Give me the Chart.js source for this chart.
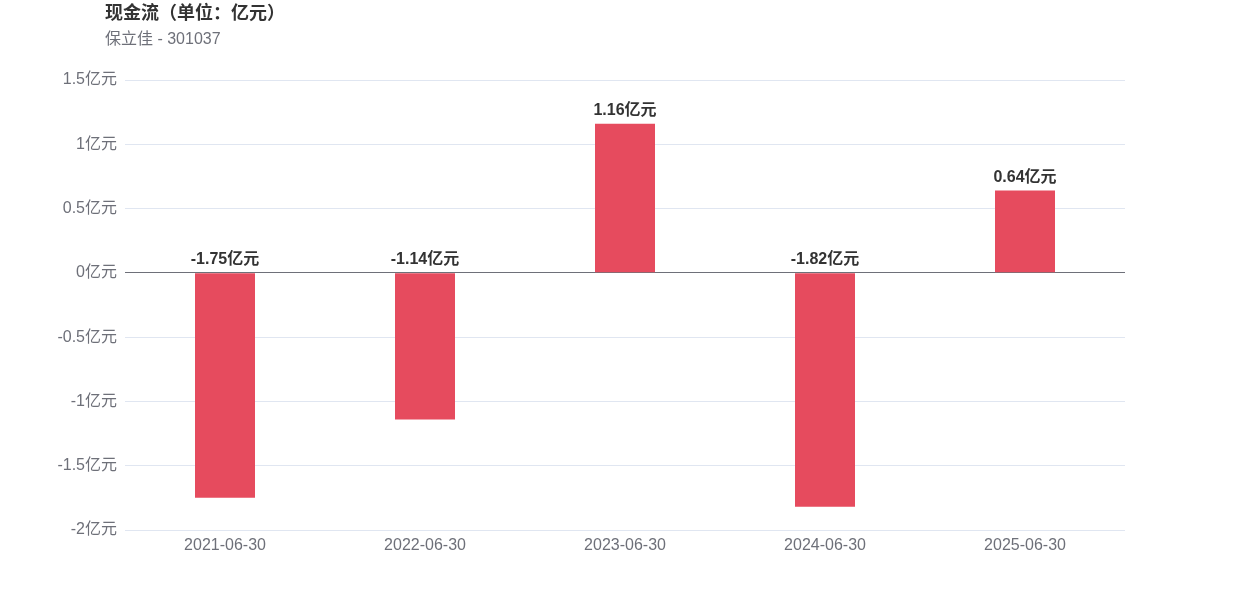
<!DOCTYPE html>
<html lang="zh">
<head>
<meta charset="UTF-8">
<title>现金流</title>
<script src="https://cdn.jsdelivr.net/npm/chart.js"></script>
<style>
  html, body { margin: 0; padding: 0; background: #fff; }
  #wrap { width: 1250px; height: 600px; position: relative; }
</style>
</head>
<body>
<div id="wrap"><canvas id="cashChart"></canvas></div>
<script>
// 数据
const categories = ['2021-06-30', '2022-06-30', '2023-06-30', '2024-06-30', '2025-06-30'];
const cashFlow = [-1.75, -1.14, 1.16, -1.82, 0.64];
const yTicks = [-2, -1.5, -1, -0.5, 0, 0.5, 1, 1.5];

const FONT = '"Liberation Sans", Arial, "Noto Sans CJK SC", sans-serif';
const barColor = '#e64b5e';

// 标题与副标题
const titlePlugin = {
    id: 'titles',
    afterDraw(chart) {
        const ctx = chart.ctx;
        ctx.save();
        ctx.textAlign = 'left';
        ctx.textBaseline = 'middle';
        ctx.fillStyle = '#333333';
        ctx.font = 'bold 18px ' + FONT;
        ctx.fillText('现金流（单位：亿元）', 105, 14);
        ctx.fillStyle = '#6e7079';
        ctx.font = '16px ' + FONT;
        ctx.fillText('保立佳 - 301037', 105, 40);
        ctx.restore();
    }
};

// 柱子上方的数值标签
const valueLabels = {
    id: 'valueLabels',
    afterDatasetsDraw(chart) {
        const ctx = chart.ctx;
        const meta = chart.getDatasetMeta(0);
        const yScale = chart.scales.y;
        const zeroY = yScale.getPixelForValue(0);
        ctx.save();
        ctx.textAlign = 'center';
        ctx.textBaseline = 'bottom';
        ctx.fillStyle = '#333333';
        ctx.font = 'bold 16px ' + FONT;
        meta.data.forEach((bar, i) => {
            const v = cashFlow[i];
            const top = Math.min(bar.y, zeroY);
            ctx.fillText(v.toFixed(2) + '亿元', bar.x, top - 5);
        });
        ctx.restore();
    }
};

new Chart(document.getElementById('cashChart'), {
    type: 'bar',
    data: {
        labels: categories,
        datasets: [{
            data: cashFlow,
            backgroundColor: barColor,
            barPercentage: 0.3,
            categoryPercentage: 1
        }]
    },
    options: {
        responsive: true,
        maintainAspectRatio: false,
        animation: false,
        layout: { padding: { top: 80, right: 125, bottom: 0, left: 0 } },
        plugins: {
            legend: { display: false },
            tooltip: { enabled: false }
        },
        scales: {
            x: {
                grid: { display: false, drawTicks: false },
                border: { display: false },
                ticks: { color: '#6e7079', font: { family: FONT, size: 16 }, padding: 6, maxRotation: 0 },
                afterFit(scale) { scale.height = 70; }
            },
            y: {
                min: -2,
                max: 1.5,
                afterBuildTicks(scale) { scale.ticks = yTicks.map(v => ({ value: v })); },
                grid: {
                    drawTicks: false,
                    color: ctx => (ctx.tick && ctx.tick.value === 0) ? '#6e7079' : '#e0e6f1'
                },
                border: { display: false },
                ticks: {
                    color: '#6e7079',
                    font: { family: FONT, size: 16 },
                    padding: 8,
                    callback: v => v + '亿元'
                },
                afterFit(scale) { scale.width = 125; }
            }
        }
    },
    plugins: [titlePlugin, valueLabels]
});
</script>
</body>
</html>
